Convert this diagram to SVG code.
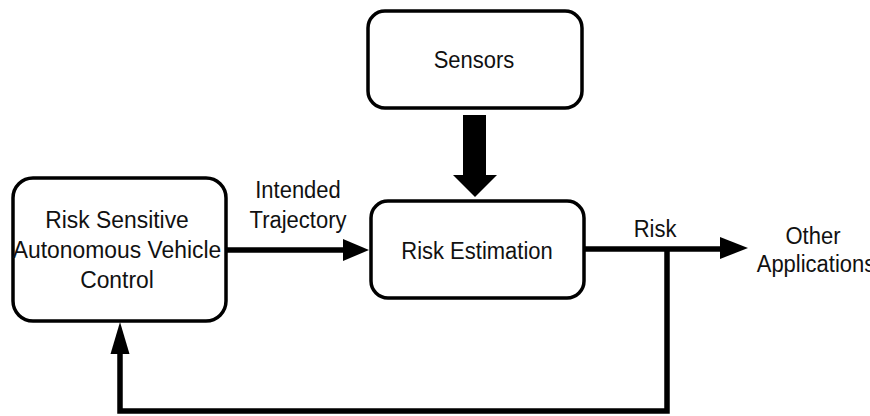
<svg xmlns="http://www.w3.org/2000/svg" width="870" height="416" viewBox="0 0 870 416">
<defs>
<style>
.box{fill:#fff;stroke:#000;stroke-width:3.5}
.t{font-family:"Liberation Sans",Arial,sans-serif;font-size:22px;fill:#111;text-anchor:middle}
.ln{fill:none;stroke:#000;stroke-width:5.5}
.hd{fill:#000}
</style>
</defs>
<rect width="870" height="416" fill="#fff"/>
<g id="sensors">
<rect class="box" x="368" y="11" width="214" height="97" rx="17"/>
<text class="t" transform="translate(474,68) scale(1,1.12)">Sensors</text>
</g>
<g id="risk-estimation">
<rect class="box" x="371" y="201" width="213" height="97" rx="17"/>
<text class="t" transform="translate(477,259) scale(1,1.12)">Risk Estimation</text>
</g>
<g id="control">
<rect class="box" x="13" y="178" width="213" height="143" rx="20"/>
<text class="t" transform="translate(117,228) scale(1.04,1.12)">Risk Sensitive</text>
<text class="t" transform="translate(117,258) scale(1.04,1.12)">Autonomous Vehicle</text>
<text class="t" transform="translate(117,288) scale(1.04,1.12)">Control</text>
</g>
<g id="other">
<text class="t" transform="translate(813,244) scale(1,1.12)">Other</text>
<text class="t" transform="translate(816,272) scale(1,1.12)">Applications</text>
</g>
<g id="connectors">
<polygon class="hd" points="463,115 486,115 486,175 497,175 475,197 453,175 463,175"/>
<line class="ln" x1="227" y1="250" x2="345" y2="250"/>
<polygon class="hd" points="343,239 369,250 343,261"/>
<text class="t" transform="translate(298,198) scale(1,1.12)">Intended</text>
<text class="t" transform="translate(298,228) scale(1,1.12)">Trajectory</text>
<line class="ln" x1="584" y1="249" x2="722" y2="249"/>
<polygon class="hd" points="720,237 748,248 720,259"/>
<text class="t" transform="translate(655,237) scale(1,1.12)">Risk</text>
<polyline class="ln" points="667,249 667,411 120,411 120,350"/>
<polygon class="hd" points="110.5,354 120,322 129.5,354"/>
</g>
</svg>
